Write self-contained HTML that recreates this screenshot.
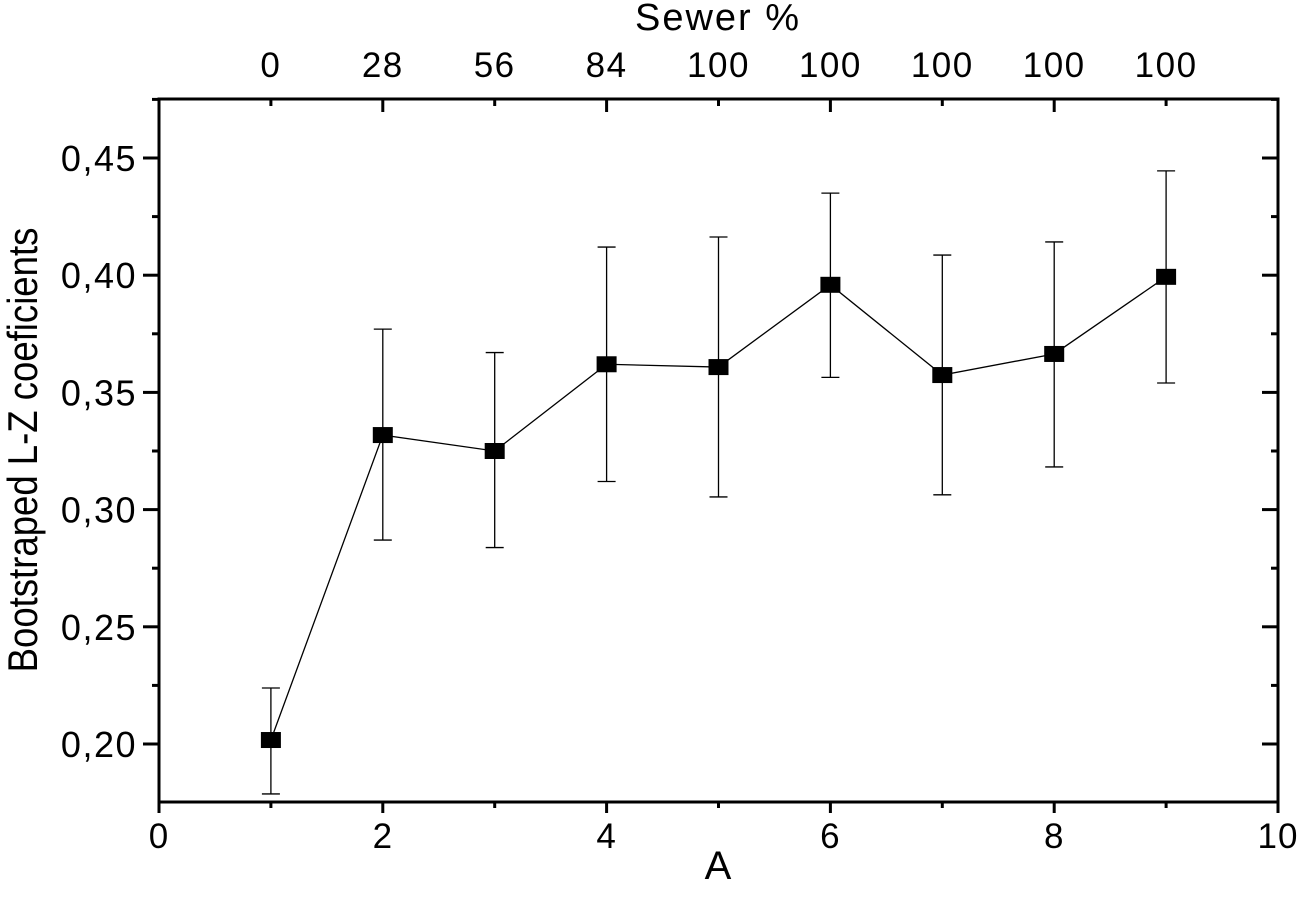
<!DOCTYPE html>
<html><head><meta charset="utf-8"><style>
html,body{margin:0;padding:0;background:#fff;}
svg{display:block;font-family:"Liberation Sans",Arial,sans-serif;}
</style></head><body>
<svg id="chart" width="1300" height="909" viewBox="0 0 1300 909"></svg>
<script>
const xCats=[1,2,3,4,5,6,7,8,9];
const yVals=[0.2017,0.3318,0.3250,0.3620,0.3608,0.3959,0.3574,0.3664,0.3993];
const yHigh=[0.2239,0.3770,0.3670,0.4120,0.4163,0.4350,0.4086,0.4142,0.4445];
const yLow=[0.1787,0.2870,0.2838,0.3120,0.3054,0.3564,0.3063,0.3182,0.3540];
const xTicks=[0,2,4,6,8,10];
const yTicks=[0.20,0.25,0.30,0.35,0.40,0.45];
const yTickLabels=["0,20","0,25","0,30","0,35","0,40","0,45"];
const topLabels=["0","28","56","84","100","100","100","100","100"];

const L=159,R=1278,T=99,B=802;
const sx=v=>L+(v-0)/(10-0)*(R-L);
const sy=v=>744+(0.20-v)/0.05*117.2;
const svg=document.getElementById('chart');
const NS='http://www.w3.org/2000/svg';
function mk(tag,attrs,parent){const e=document.createElementNS(NS,tag);for(const k in attrs)e.setAttribute(k,attrs[k]);(parent||svg).appendChild(e);return e;}

for(let v=0;v<=10;v++){
  const x=sx(v),maj=v%2===0;
  const t=mk('line',{x1:x,y1:B,x2:x,y2:B+(maj?11:6),stroke:'#000','stroke-width':3});
  
  
}
for(let v=1;v<=9;v++){
  const x=sx(v),maj=v%2===0;
  const t=mk('line',{x1:x,y1:T,x2:x,y2:T+(maj?13:7),stroke:'#000','stroke-width':3});
  
  
}
for(let i=0;i<=12;i++){
  const v=0.175+i*0.025,y=sy(v);
  if(y<T||y>B)continue;
  const maj=i%2===1;
  const a=mk('line',{x1:L,y1:y,x2:L-(maj?16:7),y2:y,stroke:'#000','stroke-width':3});
  
  
  const b=mk('line',{x1:R,y1:y,x2:R-(maj?16:7),y2:y,stroke:'#000','stroke-width':3});
  
  
}
const fr=mk('rect',{x:L,y:T,width:R-L,height:B-T,fill:'none',stroke:'#000','stroke-width':3});



xTicks.forEach(v=>{
  const t=mk('text',{x:sx(v),y:848,'font-size':35,'text-anchor':'middle','letter-spacing':1});t.textContent=v;
  
  
});
yTicks.forEach((v,i)=>{
  const t=mk('text',{x:137,y:sy(v)+13,'font-size':36,'text-anchor':'end','letter-spacing':1.5});t.textContent=yTickLabels[i];
  
  
});
topLabels.forEach((s,i)=>{
  const t=mk('text',{x:sx(xCats[i]),y:77,'font-size':35,'text-anchor':'middle','letter-spacing':1.5});t.textContent=s;
  
  
});
let t=mk('text',{x:718,y:879,'font-size':40,'text-anchor':'middle'});t.textContent='A';


t=mk('text',{x:718,y:30,'font-size':38,'text-anchor':'middle','letter-spacing':2});t.textContent='Sewer %';


t=mk('text',{x:0,y:0,'font-size':42,'text-anchor':'middle',transform:'translate(37,450) rotate(-90) scale(0.87,1)'});t.textContent='Bootstraped L-Z coeficients';



xCats.forEach((c,i)=>{
  const x=sx(c);
  const g=mk('g',{stroke:'#000','stroke-width':1.3});
  
  
  mk('line',{x1:x,y1:sy(yHigh[i]),x2:x,y2:sy(yLow[i])},g);
  mk('line',{x1:x-9,y1:sy(yHigh[i]),x2:x+9,y2:sy(yHigh[i])},g);
  mk('line',{x1:x-9,y1:sy(yLow[i]),x2:x+9,y2:sy(yLow[i])},g);
});
const pl=mk('polyline',{points:xCats.map((c,i)=>sx(c)+','+sy(yVals[i])).join(' '),fill:'none',stroke:'#000','stroke-width':1.3});


xCats.forEach((c,i)=>{
  const p=mk('rect',{x:sx(c)-10,y:sy(yVals[i])-8,width:20,height:16,fill:'#000'});
  
  
});
</script>
</body></html>
